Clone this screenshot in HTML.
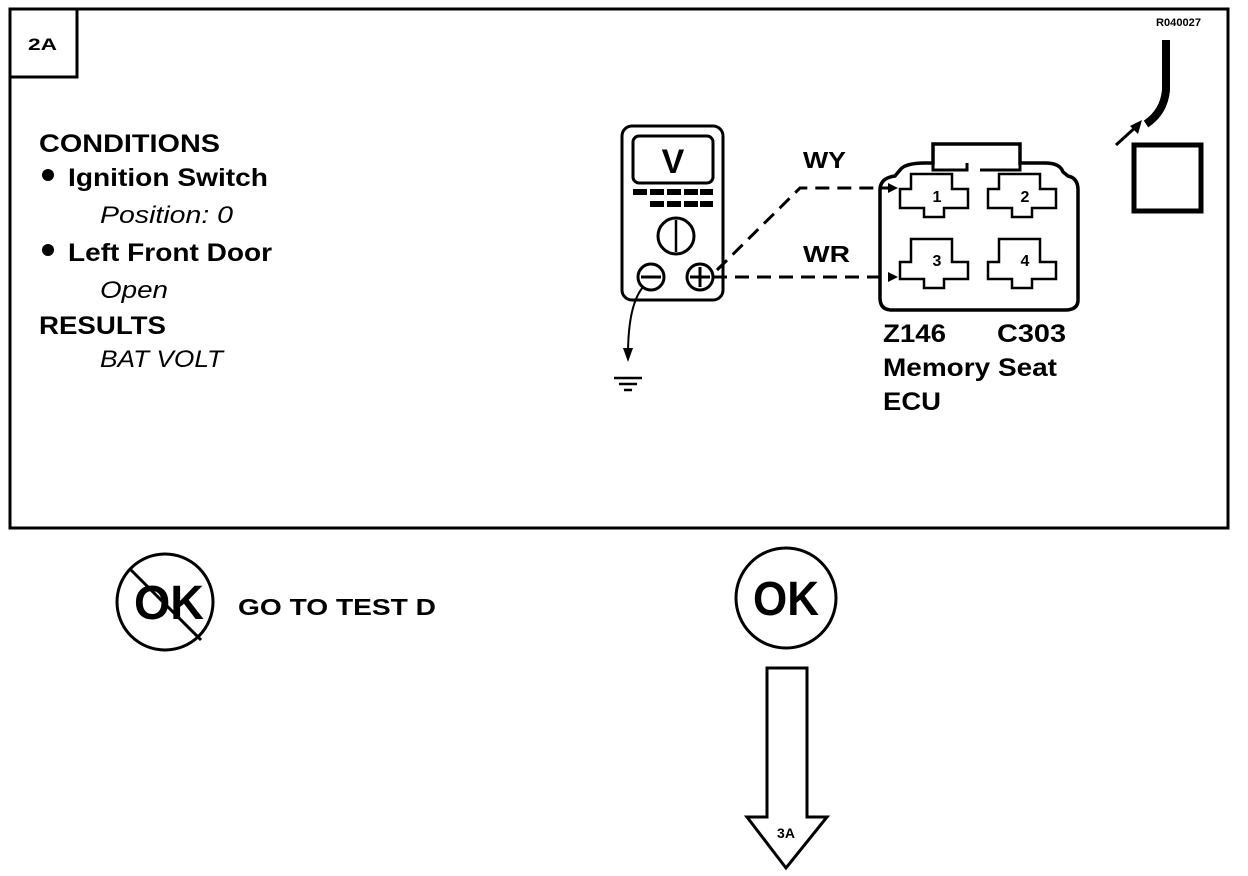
<!DOCTYPE html>
<html><head><style>body{margin:0;background:#fff}svg{display:block}</style></head>
<body>
<svg width="1248" height="876" viewBox="0 0 1248 876" xmlns="http://www.w3.org/2000/svg" font-family="Liberation Sans, Arial, sans-serif">
<rect x="10" y="9" width="1218" height="519" fill="none" stroke="#000" stroke-width="3"/>
<rect x="10" y="9" width="67" height="68" fill="none" stroke="#000" stroke-width="3"/>
<text x="28" y="50" font-size="17" font-weight="bold" textLength="29" lengthAdjust="spacingAndGlyphs">2A</text>
<text x="1156" y="26" font-size="11" font-weight="bold" textLength="45" lengthAdjust="spacingAndGlyphs">R040027</text>
<g font-size="25" font-weight="bold">
<text x="39" y="152" textLength="181" lengthAdjust="spacingAndGlyphs">CONDITIONS</text>
<circle cx="48" cy="175" r="6"/>
<text x="68" y="186" textLength="200" lengthAdjust="spacingAndGlyphs">Ignition Switch</text>
<circle cx="48" cy="250" r="6"/>
<text x="68" y="261" textLength="204" lengthAdjust="spacingAndGlyphs">Left Front Door</text>
<text x="39" y="334" textLength="127" lengthAdjust="spacingAndGlyphs">RESULTS</text>
</g>
<g font-size="24" font-style="italic">
<text x="100" y="223" textLength="133" lengthAdjust="spacingAndGlyphs">Position: 0</text>
<text x="100" y="298" textLength="68" lengthAdjust="spacingAndGlyphs">Open</text>
<text x="100" y="367" textLength="123" lengthAdjust="spacingAndGlyphs">BAT VOLT</text>
</g>
<!-- meter -->
<rect x="622" y="126" width="101" height="174" rx="10" fill="none" stroke="#000" stroke-width="3"/>
<rect x="633" y="136" width="80" height="47" rx="6" fill="none" stroke="#000" stroke-width="3"/>
<text x="673" y="173" font-size="34" font-weight="bold" text-anchor="middle">V</text>
<g fill="#000">
<rect x="633" y="189" width="14" height="6"/><rect x="650" y="189" width="14" height="6"/><rect x="667" y="189" width="14" height="6"/><rect x="684" y="189" width="14" height="6"/><rect x="700" y="189" width="13" height="6"/>
<rect x="650" y="201" width="14" height="6"/><rect x="667" y="201" width="14" height="6"/><rect x="684" y="201" width="14" height="6"/><rect x="700" y="201" width="13" height="6"/>
</g>
<circle cx="676" cy="236" r="18" fill="none" stroke="#000" stroke-width="3"/>
<line x1="676" y1="220" x2="676" y2="252" stroke="#000" stroke-width="2.5"/>
<circle cx="651" cy="277" r="13" fill="none" stroke="#000" stroke-width="3"/>
<line x1="641" y1="277" x2="661" y2="277" stroke="#000" stroke-width="3"/>
<circle cx="700" cy="277" r="13" fill="none" stroke="#000" stroke-width="3"/>
<line x1="690" y1="277" x2="710" y2="277" stroke="#000" stroke-width="3"/>
<line x1="700" y1="267" x2="700" y2="287" stroke="#000" stroke-width="3"/>
<path d="M643 287 Q628 305 628 355" fill="none" stroke="#000" stroke-width="2"/>
<path d="M623 348 L628 362 L633 348 Z"/>
<line x1="614" y1="378" x2="642" y2="378" stroke="#000" stroke-width="2.5"/>
<line x1="619" y1="384" x2="637" y2="384" stroke="#000" stroke-width="2.5"/>
<line x1="624" y1="390" x2="632" y2="390" stroke="#000" stroke-width="2.5"/>
<!-- wires -->
<path d="M717 270 L800 188 L888 188" fill="none" stroke="#000" stroke-width="3" stroke-dasharray="14,8"/>
<path d="M713 277 L885 277" fill="none" stroke="#000" stroke-width="3" stroke-dasharray="14,8"/>
<path d="M898 188 l-10 -5 v10 z"/><path d="M898 277 l-10 -5 v10 z"/>
<text x="803" y="168" font-size="23" font-weight="bold" textLength="43" lengthAdjust="spacingAndGlyphs">WY</text>
<text x="803" y="262" font-size="23" font-weight="bold" textLength="47" lengthAdjust="spacingAndGlyphs">WR</text>
<!-- connector -->
<path d="M880 190 Q880 178 895 176 L900 170 Q905 163 925 163 L933 163 L933 144 L1020 144 L1020 163 L1045 163 Q1060 163 1063 172 L1068 176 Q1078 178 1078 190 L1078 300 Q1078 310 1065 310 L892 310 Q880 310 880 298 Z" fill="none" stroke="#000" stroke-width="3.5"/>
<path d="M933 163 L933 170 L967 170 L967 163 M980 170 L1020 170 L1020 163" fill="none" stroke="#000" stroke-width="3"/>
<g fill="none" stroke="#000" stroke-width="2.5">
<path d="M911 174 L952 174 L952 189 L968 189 L968 208 L944 208 L944 217 L924 217 L924 208 L900 208 L900 189 L911 189 Z"/>
<path d="M999 174 L1040 174 L1040 189 L1056 189 L1056 208 L1032 208 L1032 217 L1012 217 L1012 208 L988 208 L988 189 L999 189 Z"/>
<path d="M911 239 L952 239 L952 262 L968 262 L968 279 L944 279 L944 288 L924 288 L924 279 L900 279 L900 262 L911 262 Z"/>
<path d="M999 239 L1040 239 L1040 262 L1056 262 L1056 279 L1032 279 L1032 288 L1012 288 L1012 279 L988 279 L988 262 L999 262 Z"/>
</g>
<g font-size="16" font-weight="bold" text-anchor="middle">
<text x="937" y="202">1</text><text x="1025" y="202">2</text><text x="937" y="266">3</text><text x="1025" y="266">4</text>
</g>
<g font-size="25" font-weight="bold">
<text x="883" y="342" textLength="63" lengthAdjust="spacingAndGlyphs">Z146</text><text x="997" y="342" textLength="69" lengthAdjust="spacingAndGlyphs">C303</text>
<text x="883" y="376" textLength="174" lengthAdjust="spacingAndGlyphs">Memory Seat</text>
<text x="883" y="410" textLength="58" lengthAdjust="spacingAndGlyphs">ECU</text>
</g>
<!-- top right -->
<path d="M1166 40 L1166 90 Q1164 112 1146 124" fill="none" stroke="#000" stroke-width="8"/>
<path d="M1116 145 L1138 125" stroke="#000" stroke-width="3"/>
<path d="M1142 120 L1130 126 L1138 134 Z"/>
<rect x="1134" y="145" width="67" height="66" fill="none" stroke="#000" stroke-width="5"/>
<!-- bottom -->
<circle cx="165" cy="602" r="48" fill="none" stroke="#000" stroke-width="3"/>
<line x1="130" y1="569" x2="201" y2="640" stroke="#000" stroke-width="3"/>
<text x="134" y="619" font-size="48" font-weight="bold" textLength="70" lengthAdjust="spacingAndGlyphs">OK</text>
<text x="238" y="615" font-size="23" font-weight="bold" textLength="198" lengthAdjust="spacingAndGlyphs">GO TO TEST D</text>
<circle cx="786" cy="598" r="50" fill="none" stroke="#000" stroke-width="3"/>
<text x="753" y="615" font-size="48" font-weight="bold" textLength="66" lengthAdjust="spacingAndGlyphs">OK</text>
<path d="M767 668 L807 668 L807 817 L827 817 L786 868 L747 817 L767 817 Z" fill="none" stroke="#000" stroke-width="3"/>
<text x="786" y="838" font-size="14" font-weight="bold" text-anchor="middle">3A</text>
</svg>
</body></html>
